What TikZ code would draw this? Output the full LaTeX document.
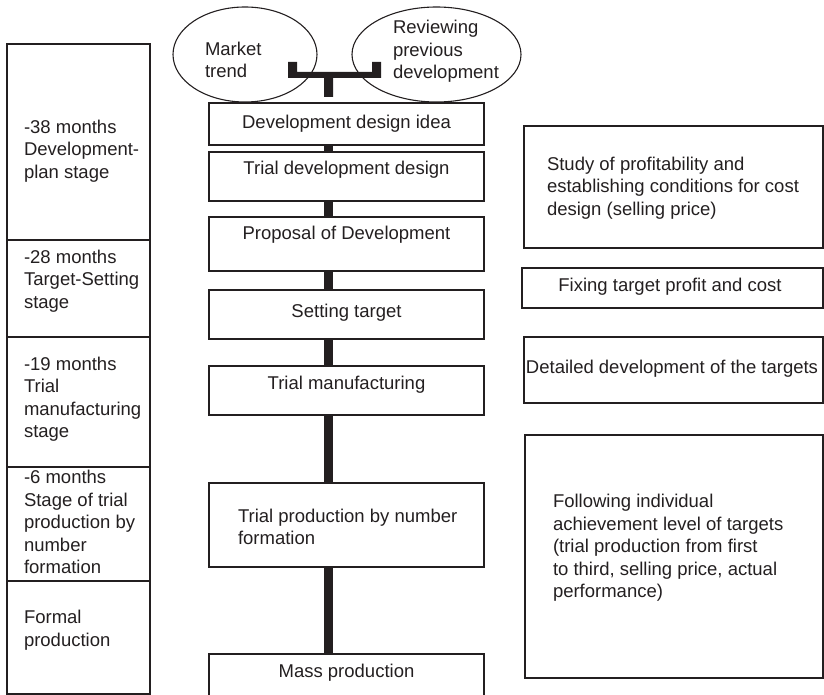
\documentclass[tikz,border=0pt]{standalone}
\usepackage{fontspec}
\setmainfont{Liberation Sans}
\usetikzlibrary{shapes.geometric}
\definecolor{ink}{HTML}{231F20}
\begin{document}
\begin{tikzpicture}[x=1pt,y=-1pt,
  every node/.style={inner sep=0pt,outer sep=0pt,text=ink,font=\fontsize{18.5}{22.5}\selectfont},
  box/.style={draw=ink,line width=1.5pt,rectangle},
  stagebox/.style={box,minimum width=143},
  midbox/.style={box,minimum width=275},
  oval/.style={draw=ink,line width=1.1pt,ellipse},
  txt/.style={align=left,anchor=west},
  ctxt/.style={align=center},
  link/.style={draw=ink,line width=8.5pt}
]
\useasboundingbox (0,0) rectangle (824,695);
\begin{scope}
\clip (0,0) rectangle (824,695);
% left stage column
\node[stagebox,minimum height=196] (s1) at (78.5,142) {};
\node[stagebox,minimum height=97] (s2) at (78.5,288.5) {};
\node[stagebox,minimum height=130] (s3) at (78.5,402) {};
\node[stagebox,minimum height=114] (s4) at (78.5,524) {};
\node[stagebox,minimum height=113] (s5) at (78.5,637.5) {};
\node[txt] (t1) at (24,151) {-38 months\\Development-\\plan stage};
\node[txt] (t2) at (24,281) {-28 months\\Target-Setting\\stage};
\node[txt] (t3) at (24,399) {-19 months\\Trial\\manufacturing\\stage};
\node[txt] (t4) at (24,522) {-6 months\\Stage of trial\\production by\\number\\formation};
\node[txt] (t5) at (24,630) {Formal\\production};

% ovals
\node[oval,minimum width=144,minimum height=95] (e1) at (245,54.5) {};
\node[oval,minimum width=169,minimum height=95] (e2) at (436.5,54.5) {};
\node[txt] (te1) at (205,60) {Market\\trend};
\node[txt] (te2) at (393,51.5) {Reviewing\\previous\\development};

% bracket
\coordinate (spine) at (328.5,0);
\fill[ink] (288,62) rectangle (297,78)
           (288,72) rectangle (381,78)
           (372,62) rectangle (381,78)
           (324,72) rectangle (333,97);

% middle boxes
\node[midbox,minimum height=42] (b1) at (346.5,124) {};
\node[midbox,minimum height=49] (b2) at (346.5,176.5) {};
\node[midbox,minimum height=54] (b3) at (346.5,244) {};
\node[midbox,minimum height=49] (b4) at (346.5,314.5) {};
\node[midbox,minimum height=49] (b5) at (346.5,390.5) {};
\node[midbox,minimum height=84] (b6) at (346.5,525) {};
\node[midbox,minimum height=60] (b7) at (346.5,684) {};
\node[ctxt] (tb1) at (346.5,124) {Development design idea};
\node[ctxt] (tb2) at (346.5,170) {Trial development design};
\node[ctxt] (tb3) at (346.5,235) {Proposal of Development};
\node[ctxt] (tb4) at (346.5,313) {Setting target};
\node[ctxt] (tb5) at (346.5,385) {Trial manufacturing};
\node[txt] (tb6) at (238,527) {Trial production by number\\formation};
\node[ctxt] (tb7) at (346.5,673) {Mass production};

% connectors
\draw[link] (b1.south -| spine) -- (b2.north -| spine);
\draw[link] (b2.south -| spine) -- (b3.north -| spine);
\draw[link] (b3.south -| spine) -- (b4.north -| spine);
\draw[link] (b4.south -| spine) -- (b5.north -| spine);
\draw[link] (b5.south -| spine) -- (b6.north -| spine);
\draw[link] (b6.south -| spine) -- (b7.north -| spine);

% right boxes
\node[box,minimum width=299,minimum height=122] (r1) at (673.5,187) {};
\node[box,minimum width=301,minimum height=40] (r2) at (672.5,288) {};
\node[box,minimum width=299,minimum height=66] (r3) at (673.5,370) {};
\node[box,minimum width=298,minimum height=243] (r4) at (674,556.5) {};
\node[txt] (tr1) at (547,188) {Study of profitability and\\establishing conditions for cost\\design (selling price)};
\node[ctxt] (tr2) at (670,287) {Fixing target profit and cost};
\node[ctxt] (tr3) at (672,369) {Detailed development of the targets};
\node[txt] (tr4) at (553,548) {Following individual\\achievement level of targets\\(trial production from first\\to third, selling price, actual\\performance)};
\end{scope}
\end{tikzpicture}
\end{document}
